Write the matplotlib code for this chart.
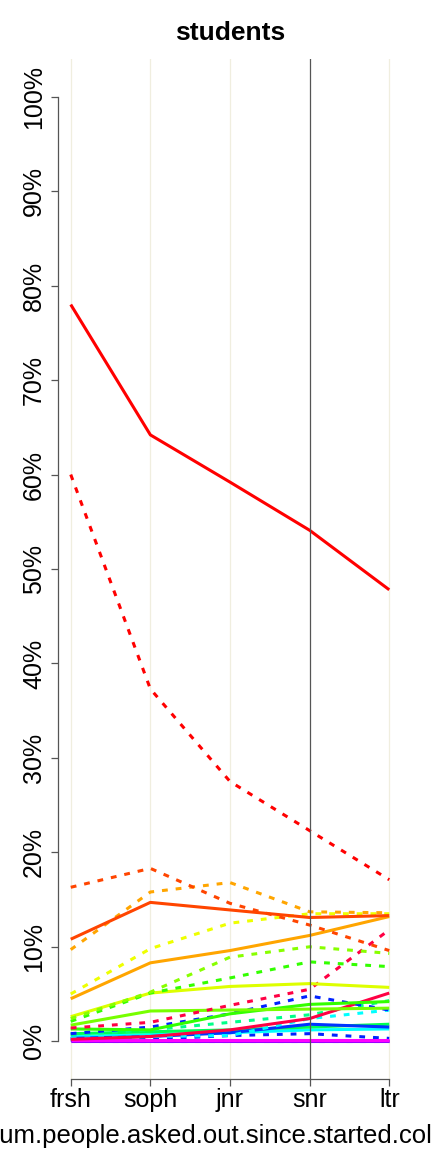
import matplotlib
matplotlib.use("Agg")
import matplotlib.pyplot as plt

plt.rcParams['font.family'] = ['Liberation Sans', 'DejaVu Sans']

categories = ["frsh", "soph", "jnr", "snr", "ltr"]
y_ticks = [0, 10, 20, 30, 40, 50, 60, 70, 80, 90, 100]
y_tick_labels = [f"{v}%" for v in y_ticks]

# solid series (percent)
red_solid = [78.0, 64.2, 59.2, 54.1, 47.8]
orangered_solid = [10.8, 14.7, 13.9, 13.1, 13.3]
orange_solid = [4.5, 8.3, 9.6, 11.2, 13.2]
yellow_solid = [2.6, 5.1, 5.8, 6.1, 5.7]
yellowgreen_solid = [1.7, 3.2, 3.3, 3.4, 3.5]
green_solid = [1.3, 1.2, 2.9, 3.9, 4.2]
springgreen_solid = [0.8, 1.0, 1.2, 1.5, 1.8]
cyan_solid = [0.5, 0.7, 0.9, 1.2, 1.3]
blue_solid = [0.3, 0.5, 0.9, 1.8, 1.5]
purple_solid = [0.0, 0.0, 0.0, 0.0, 0.0]
magenta_solid = [0.1, 0.1, 0.1, 0.1, 0.1]
crimson_solid = [0.2, 0.5, 1.2, 2.4, 5.1]

# dotted series (percent)
red_dotted = [60.0, 37.3, 27.5, 22.3, 17.1]
orangered_dotted = [16.3, 18.3, 14.6, 12.3, 9.6]
orange_dotted = [9.7, 15.8, 16.8, 13.7, 13.6]
yellow_dotted = [5.0, 9.8, 12.5, 13.5, 13.5]
yellowgreen_dotted = [2.4, 5.2, 8.9, 10.0, 9.3]
green_dotted = [2.1, 5.1, 6.7, 8.4, 7.9]
springgreen_dotted = [0.7, 1.2, 2.0, 2.8, 4.3]
cyan_dotted = [0.3, 0.5, 0.6, 2.4, 3.3]
blue_dotted = [0.8, 1.5, 2.9, 4.8, 3.3]
blue_dotted2 = [0.1, 0.2, 0.6, 0.8, 0.3]
purple_dotted = [0.0, 0.0, 0.0, 0.0, 0.0]
crimson_dotted = [1.4, 2.0, 3.8, 5.5, 11.8]

series = [
    (purple_dotted, "#9900FF", "dotted"),
    (purple_solid, "#9900FF", "solid"),
    (blue_dotted2, "#0022FF", "dotted"),
    (magenta_solid, "#FF00FF", "solid"),
    (cyan_solid, "#00FFFF", "solid"),
    (springgreen_solid, "#00FF55", "solid"),
    (blue_solid, "#0033FF", "solid"),
    (cyan_dotted, "#00FFFF", "dotted"),
    (springgreen_dotted, "#00FF88", "dotted"),
    (crimson_solid, "#FF0044", "solid"),
    (blue_dotted, "#0022FF", "dotted"),
    (green_solid, "#33FF00", "solid"),
    (yellowgreen_solid, "#77FF00", "solid"),
    (crimson_dotted, "#FF0044", "dotted"),
    (yellow_solid, "#DDFF00", "solid"),
    (green_dotted, "#33FF00", "dotted"),
    (yellowgreen_dotted, "#88FF00", "dotted"),
    (orange_solid, "#FFA500", "solid"),
    (yellow_dotted, "#EEFF00", "dotted"),
    (orange_dotted, "#FFA500", "dotted"),
    (orangered_solid, "#FF4500", "solid"),
    (orangered_dotted, "#FF4500", "dotted"),
    (red_dotted, "#FF0000", "dotted"),
    (red_solid, "#FF0000", "solid"),
]

fig = plt.figure(figsize=(4.32, 11.52), dpi=100)
ax = fig.add_axes([58/432, 1 - 1079/1152, 344/432, 1020/1152])

xs = list(range(1, len(categories) + 1))

for x in xs:
    if categories[x - 1] == "snr":
        ax.axvline(x, color="#555555", lw=0.9, zorder=3)
    else:
        ax.axvline(x, color="#F0EEDF", lw=0.9, zorder=0)

for vals, col, style in series:
    if style == "solid":
        ax.plot(xs, vals, color=col, lw=2.2, solid_capstyle="butt", zorder=2)
    else:
        ax.plot(xs, vals, color=col, lw=2.2, linestyle=(0, (1.9, 2.6)),
                dash_capstyle="butt", zorder=2)

ax.set_xlim(0.84, 5.16)
ax.set_ylim(-4, 104)

ax.spines['top'].set_visible(False)
ax.spines['right'].set_visible(False)
ax.spines['left'].set_bounds(0, 100)
ax.spines['bottom'].set_bounds(1, 5)
for s in ('left', 'bottom'):
    ax.spines[s].set_color("#555555")
    ax.spines[s].set_linewidth(0.9)

ax.set_xticks(xs)
ax.set_xticklabels(categories, fontsize=18)
ax.set_yticks(y_ticks)
ax.set_yticklabels(y_tick_labels, fontsize=18, rotation=90, va="center")
ax.tick_params(axis='x', length=5, width=0.9, color="#555555", pad=1.5)
ax.tick_params(axis='y', length=5, width=0.9, color="#555555", pad=3.5)

ax.set_title("students", fontsize=19, fontweight="bold", pad=14)
ax.set_xlabel("num.people.asked.out.since.started.college", fontsize=18.5,
              labelpad=8.5, x=0.509, ha="center")

fig.savefig("out.png", dpi=100)
